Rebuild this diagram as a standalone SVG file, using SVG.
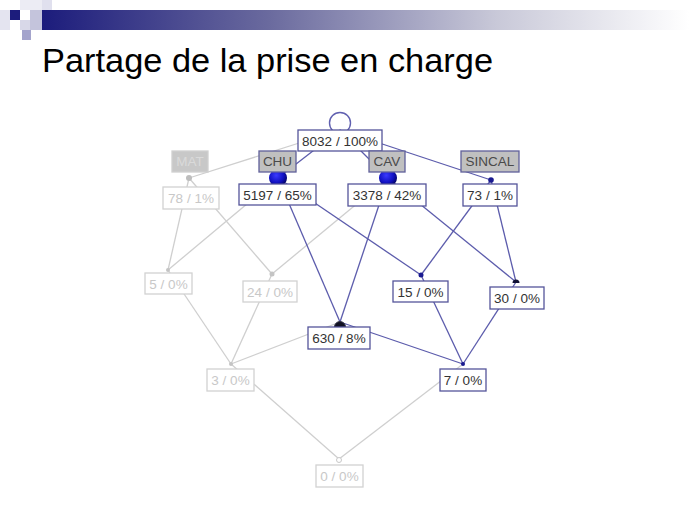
<svg xmlns="http://www.w3.org/2000/svg" width="689" height="517" viewBox="0 0 689 517">
<defs>
<linearGradient id="bar" x1="0" y1="0" x2="1" y2="0">
<stop offset="0" stop-color="#1c1c7c"/>
<stop offset="0.35" stop-color="#6a6a9e"/>
<stop offset="0.7" stop-color="#c8c8d8"/>
<stop offset="1" stop-color="#ffffff"/>
</linearGradient>
<radialGradient id="bigNode" cx="0.4" cy="0.35" r="0.7">
<stop offset="0" stop-color="#3a3aff"/>
<stop offset="0.6" stop-color="#1010c0"/>
<stop offset="1" stop-color="#000050"/>
</radialGradient>
<style>
.t{font-family:"Liberation Sans",Arial,sans-serif;font-size:13.5px;text-anchor:middle;}
.act rect{fill:#ffffff;stroke:#55559a;stroke-width:1.3;}
.act text{fill:#333333;}
.lab rect{fill:#c0c0c0;stroke:#60609a;stroke-width:1.3;}
.lab text{fill:#4a4a4a;}
.fad rect{fill:#ffffff;stroke:#d2d2d2;stroke-width:1.3;}
.fad text{fill:#c8c8c8;}
.fadlab rect{fill:#c8c8c8;stroke:#d0d0d0;stroke-width:1.3;}
.fadlab text{fill:#dadada;}
.ea line{stroke:#5c5cac;stroke-width:1.3;}
.ef line{stroke:#cfcfcf;stroke-width:1.3;}
</style>
</defs>
<rect width="689" height="517" fill="#ffffff"/>
<g id="banner">
<rect x="42" y="10" width="647" height="20" fill="url(#bar)"/>
<rect x="0" y="10" width="10" height="20" fill="#e4e4f0"/>
<rect x="20" y="0" width="22" height="10" fill="#ececf4"/>
<rect x="42" y="0" width="10" height="10" fill="#e0e0ee"/>
<rect x="30" y="10" width="12" height="20" fill="#c4c4dc"/>
<rect x="20" y="20" width="10" height="10" fill="#d8d8e8"/>
<rect x="10" y="10" width="10" height="10" fill="#1c1c7c"/>
<rect x="22" y="30" width="9" height="10" fill="#a4a4cc"/>
</g>
<text x="42" y="72" font-family="'Liberation Sans',Arial,sans-serif" font-size="33" fill="#000000" textLength="451" lengthAdjust="spacingAndGlyphs">Partage de la prise en charge</text>
<g id="connectors">
<g class="ef">
<line x1="340" y1="130" x2="189" y2="178"/>
<line x1="189" y1="178" x2="168" y2="270"/>
<line x1="189" y1="178" x2="272" y2="274"/>
<line x1="278" y1="178" x2="168" y2="270"/>
<line x1="388" y1="178" x2="272" y2="274"/>
<line x1="168" y1="270" x2="231" y2="364"/>
<line x1="272" y1="274" x2="231" y2="364"/>
<line x1="340" y1="322" x2="231" y2="364"/>
<line x1="231" y1="364" x2="339" y2="459"/>
<line x1="463" y1="364" x2="339" y2="459"/>
</g>
<g class="ea">
<line x1="340" y1="130" x2="278" y2="178"/>
<line x1="340" y1="130" x2="388" y2="178"/>
<line x1="340" y1="130" x2="491" y2="180"/>
<line x1="278" y1="178" x2="421" y2="275"/>
<line x1="278" y1="178" x2="340" y2="322"/>
<line x1="388" y1="178" x2="340" y2="322"/>
<line x1="388" y1="178" x2="516" y2="282"/>
<line x1="491" y1="180" x2="421" y2="275"/>
<line x1="491" y1="180" x2="516" y2="282"/>
<line x1="421" y1="275" x2="463" y2="364"/>
<line x1="516" y1="282" x2="463" y2="364"/>
<line x1="340" y1="322" x2="463" y2="364"/>
</g>
</g>
<g id="node-points">
<circle cx="340" cy="123" r="10.5" fill="none" stroke="#6060b0" stroke-width="1.4"/>
<circle cx="278" cy="178" r="9" fill="url(#bigNode)"/>
<circle cx="388" cy="178" r="9" fill="url(#bigNode)"/>
<circle cx="491" cy="180" r="2.8" fill="#1a1a90"/>
<circle cx="189" cy="178" r="3" fill="#bdbdbd"/>
<circle cx="168" cy="270" r="2" fill="#c4c4c4"/>
<circle cx="272" cy="274" r="2.5" fill="#c4c4c4"/>
<circle cx="421" cy="275" r="2.5" fill="#1a1a90"/>
<path d="M512.5,283 A3.5,3.5 0 0 1 519.5,283 Z" fill="#111133"/>
<path d="M334.5,327 A5.5,5.5 0 0 1 345.5,327 Z" fill="#111122"/>
<circle cx="340" cy="327" r="5.5" fill="none" stroke="#333344" stroke-width="1"/>
<circle cx="463" cy="364" r="2" fill="#1a1a90"/>
<circle cx="231" cy="364" r="2" fill="#c4c4c4"/>
<circle cx="339" cy="460" r="2.5" fill="#ffffff" stroke="#c8c8c8" stroke-width="1"/>
</g>
<g id="n-top" class="act"><rect x="298" y="130" width="84" height="21"/><text class="t" x="340" y="145.5">8032 / 100%</text></g>
<g id="l-mat" class="fadlab"><rect x="172" y="151" width="36" height="21"/><text class="t" x="190" y="166">MAT</text></g>
<g id="l-chu" class="lab"><rect x="259" y="151" width="37" height="21"/><text class="t" x="277.5" y="166">CHU</text></g>
<g id="l-cav" class="lab"><rect x="369" y="151" width="36" height="21"/><text class="t" x="387" y="166">CAV</text></g>
<g id="l-sincal" class="lab"><rect x="461" y="151" width="58" height="21"/><text class="t" x="490" y="166">SINCAL</text></g>
<g id="n-5197" class="act"><rect x="239" y="184" width="77" height="21"/><text class="t" x="277.5" y="199.5">5197 / 65%</text></g>
<g id="n-3378" class="act"><rect x="348" y="184" width="78" height="22"/><text class="t" x="387" y="200">3378 / 42%</text></g>
<g id="n-73" class="act"><rect x="463" y="184" width="54" height="22"/><text class="t" x="490" y="200">73 / 1%</text></g>
<g id="n-78" class="fad"><rect x="163" y="187" width="56" height="22"/><text class="t" x="191" y="203">78 / 1%</text></g>
<g id="n-5" class="fad"><rect x="145" y="273" width="47" height="21"/><text class="t" x="168.5" y="288.5">5 / 0%</text></g>
<g id="n-24" class="fad"><rect x="243" y="281" width="54" height="21"/><text class="t" x="270" y="296.5">24 / 0%</text></g>
<g id="n-15" class="act"><rect x="393" y="281" width="55" height="21"/><text class="t" x="420.5" y="296.5">15 / 0%</text></g>
<g id="n-30" class="act"><rect x="490" y="287" width="54" height="22"/><text class="t" x="517" y="303">30 / 0%</text></g>
<g id="n-630" class="act"><rect x="308" y="327" width="62" height="22"/><text class="t" x="339" y="343">630 / 8%</text></g>
<g id="n-7" class="act"><rect x="440" y="369" width="46" height="22"/><text class="t" x="463" y="385">7 / 0%</text></g>
<g id="n-3" class="fad"><rect x="207" y="369" width="47" height="22"/><text class="t" x="230.5" y="385">3 / 0%</text></g>
<g id="n-0" class="fad"><rect x="316" y="465" width="47" height="22"/><text class="t" x="339.5" y="481">0 / 0%</text></g>
</svg>
